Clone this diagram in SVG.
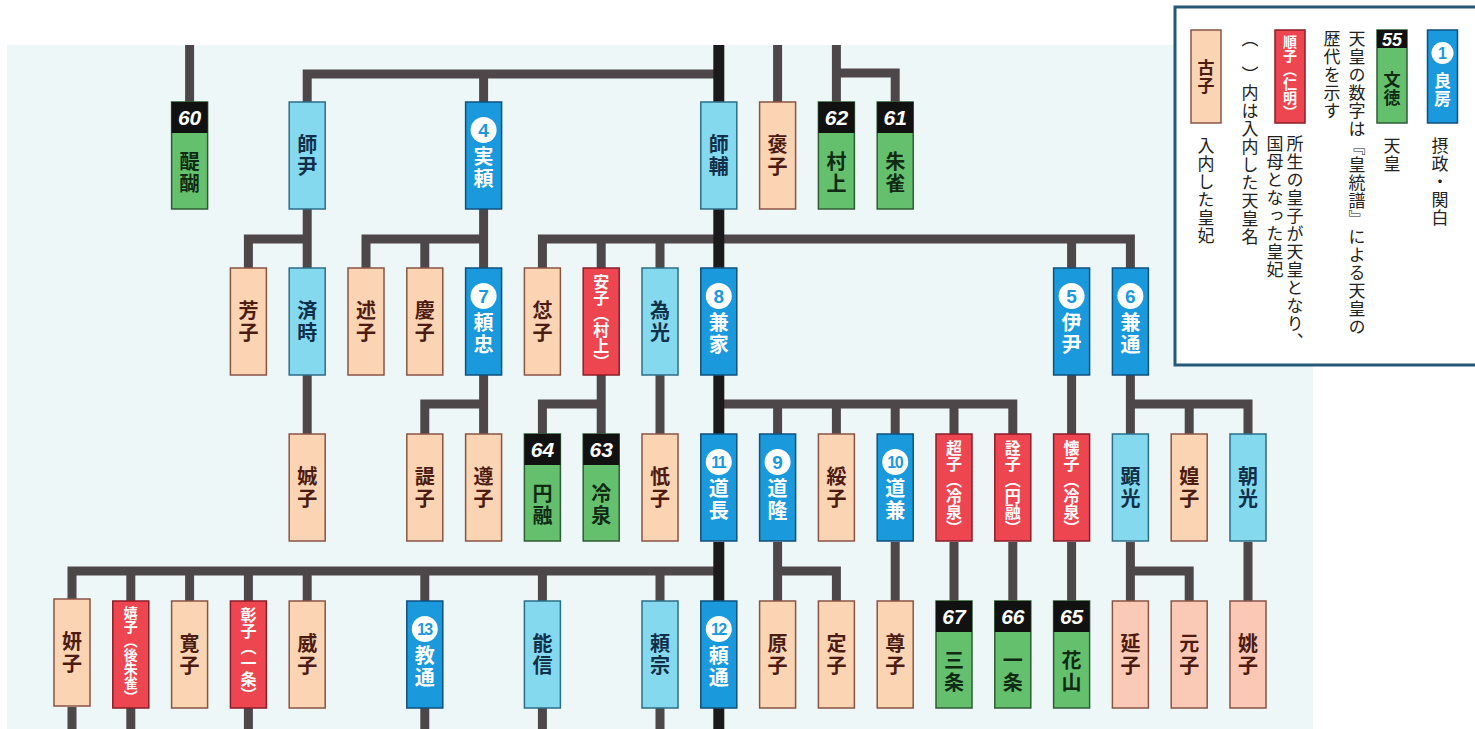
<svg xmlns="http://www.w3.org/2000/svg" width="1475" height="729" viewBox="0 0 1475 729">
<style>
.c{fill:none;stroke:#4e4749;stroke-width:9;stroke-linejoin:miter}
.m{fill:none;stroke:#1b1a1b;stroke-width:11}
.nb{fill:#1a99dc;stroke:#10507d;stroke-width:1.5}
.nl{fill:#84d9ef;stroke:#2d6d88;stroke-width:1.5}
.np{fill:#fbd4b4;stroke:#8a5444;stroke-width:1.5}
.nr{fill:#ee4651;stroke:#8a1e28;stroke-width:1.5}
.ng{fill:#64c06d;stroke:#2e5d33;stroke-width:1.5}
.hd{fill:#111}
.v{writing-mode:vertical-rl;text-anchor:middle;font-family:"Noto Sans CJK JP","Noto Sans CJK SC",sans-serif;font-weight:bold;font-size:20px;letter-spacing:2px}
.s{font-size:16px;letter-spacing:0}
.xs{font-size:14px;letter-spacing:0}
.tb{fill:#fff}.tl{fill:#10304a}.tp{fill:#4c1c12}.tg{fill:#102a14}
.num{font-family:"Liberation Sans",Arial,sans-serif;font-style:italic;font-weight:bold;font-size:21px;fill:#fff;text-anchor:middle}
.ci{fill:#fff}
.cn{font-family:"Liberation Sans",Arial,sans-serif;font-weight:bold;font-size:19px;fill:#1a99dc;text-anchor:middle}
.cn2{font-size:16px;letter-spacing:-1.5px}
.lg{writing-mode:vertical-rl;font-family:"Noto Sans CJK JP","Noto Sans CJK SC",sans-serif;font-size:17px;fill:#222;letter-spacing:1px}
</style>
<rect x="7" y="45" width="1306" height="684" fill="#eef7f8"/>

<g id="connectors">
<path class="c" d="M189.6,45V102"/>
<path class="c" d="M307.2,102V74H718.8M483.6,74V102"/>
<path class="c" d="M777.6,45V102"/>
<path class="c" d="M836.4,45V102M836.4,73H895.2V102"/>
<path class="c" d="M248.4,268V239H307.2M307.2,209V268"/>
<path class="c" d="M366,268V239H483.6M424.8,239V268M483.6,209V268"/>
<path class="c" d="M542.4,268V239H1130.4V268M601.2,239V268M660,239V268M1071.6,239V268"/>
<path class="c" d="M307.2,375V434"/>
<path class="c" d="M424.8,434V404H483.6M483.6,375V434"/>
<path class="c" d="M542.4,434V404H601.2M601.2,375V434"/>
<path class="c" d="M660,375V434"/>
<path class="c" d="M718.8,404H1012.8V434M777.6,404V434M836.4,404V434M895.2,404V434M954,404V434"/>
<path class="c" d="M1071.6,375V434"/>
<path class="c" d="M1130.4,375V434M1130.4,404H1248V434M1189.2,404V434"/>
<path class="c" d="M72,601V571H718.8M130.8,571V601M189.6,571V601M248.4,571V601M307.2,571V601M424.8,571V601M542.4,571V601M660,571V601"/>
<path class="c" d="M777.6,542V601M777.6,571H836.4V601"/>
<path class="c" d="M895.2,542V601M954,542V601M1012.8,542V601M1071.6,542V601"/>
<path class="c" d="M1130.4,542V601M1130.4,571H1189.2V601M1248,542V601"/>
<path class="c" d="M72,707V729M130.8,707V729M248.4,707V729M424.8,707V729M542.4,707V729M660,707V729"/>
<path class="m" d="M718.8,45V102M718.8,209V268M718.8,375V434M718.8,542V601M718.8,707V729"/>
</g>

<!-- Row 1 -->
<g id="n-daigo" transform="translate(189.6,102)"><rect class="ng" x="-18" y="0" width="36" height="107"/><rect class="hd" x="-18" y="0" width="36" height="31"/><text class="num" x="0" y="23">60</text><text class="v tg" x="0" y="71">醍醐</text></g>
<g id="n-morotada" transform="translate(307.2,102)"><rect class="nl" x="-18" y="0" width="36" height="107"/><text class="v tl" x="0" y="54">師尹</text></g>
<g id="n-saneyori" transform="translate(483.6,102)"><rect class="nb" x="-18" y="0" width="36" height="107"/><circle class="ci" cx="0" cy="28" r="13"/><text class="cn" x="0" y="35">4</text><text class="v tb" x="0" y="66">実頼</text></g>
<g id="n-morosuke" transform="translate(718.8,102)"><rect class="nl" x="-18" y="0" width="36" height="107"/><text class="v tl" x="0" y="54">師輔</text></g>
<g id="n-hoshi" transform="translate(777.6,102)"><rect class="np" x="-18" y="0" width="36" height="107"/><text class="v tp" x="0" y="54">褒子</text></g>
<g id="n-murakami" transform="translate(836.4,102)"><rect class="ng" x="-18" y="0" width="36" height="107"/><rect class="hd" x="-18" y="0" width="36" height="31"/><text class="num" x="0" y="23">62</text><text class="v tg" x="0" y="71">村上</text></g>
<g id="n-suzaku" transform="translate(895.2,102)"><rect class="ng" x="-18" y="0" width="36" height="107"/><rect class="hd" x="-18" y="0" width="36" height="31"/><text class="num" x="0" y="23">61</text><text class="v tg" x="0" y="71">朱雀</text></g>

<!-- Row 2 -->
<g id="n-hoshi2" transform="translate(248.4,268)"><rect class="np" x="-18" y="0" width="36" height="107"/><text class="v tp" x="0" y="54">芳子</text></g>
<g id="n-naritoki" transform="translate(307.2,268)"><rect class="nl" x="-18" y="0" width="36" height="107"/><text class="v tl" x="0" y="54">済時</text></g>
<g id="n-jutsushi" transform="translate(366,268)"><rect class="np" x="-18" y="0" width="36" height="107"/><text class="v tp" x="0" y="54">述子</text></g>
<g id="n-keishi" transform="translate(424.8,268)"><rect class="np" x="-18" y="0" width="36" height="107"/><text class="v tp" x="0" y="54">慶子</text></g>
<g id="n-yoritada" transform="translate(483.6,268)"><rect class="nb" x="-18" y="0" width="36" height="107"/><circle class="ci" cx="0" cy="28" r="13"/><text class="cn" x="0" y="35">7</text><text class="v tb" x="0" y="66">頼忠</text></g>
<g id="n-fushi" transform="translate(542.4,268)"><rect class="np" x="-18" y="0" width="36" height="107"/><text class="v tp" x="0" y="54">怤子</text></g>
<g id="n-anshi" transform="translate(601.2,268)"><rect class="nr" x="-18" y="0" width="36" height="107"/><text class="v s tb" x="0" y="54">安子（村上）</text></g>
<g id="n-tamemitsu" transform="translate(660,268)"><rect class="nl" x="-18" y="0" width="36" height="107"/><text class="v tl" x="0" y="54">為光</text></g>
<g id="n-kaneie" transform="translate(718.8,268)"><rect class="nb" x="-18" y="0" width="36" height="107"/><circle class="ci" cx="0" cy="28" r="13"/><text class="cn" x="0" y="35">8</text><text class="v tb" x="0" y="66">兼家</text></g>
<g id="n-koretada" transform="translate(1071.6,268)"><rect class="nb" x="-18" y="0" width="36" height="107"/><circle class="ci" cx="0" cy="28" r="13"/><text class="cn" x="0" y="35">5</text><text class="v tb" x="0" y="66">伊尹</text></g>
<g id="n-kanemichi" transform="translate(1130.4,268)"><rect class="nb" x="-18" y="0" width="36" height="107"/><circle class="ci" cx="0" cy="28" r="13"/><text class="cn" x="0" y="35">6</text><text class="v tb" x="0" y="66">兼通</text></g>

<!-- Row 3 -->
<g id="n-seishi" transform="translate(307.2,434)"><rect class="np" x="-18" y="0" width="36" height="107"/><text class="v tp" x="0" y="54">娍子</text></g>
<g id="n-shishi" transform="translate(424.8,434)"><rect class="np" x="-18" y="0" width="36" height="107"/><text class="v tp" x="0" y="54">諟子</text></g>
<g id="n-junshi" transform="translate(483.6,434)"><rect class="np" x="-18" y="0" width="36" height="107"/><text class="v tp" x="0" y="54">遵子</text></g>
<g id="n-enyu" transform="translate(542.4,434)"><rect class="ng" x="-18" y="0" width="36" height="107"/><rect class="hd" x="-18" y="0" width="36" height="31"/><text class="num" x="0" y="23">64</text><text class="v tg" x="0" y="71">円融</text></g>
<g id="n-reizei" transform="translate(601.2,434)"><rect class="ng" x="-18" y="0" width="36" height="107"/><rect class="hd" x="-18" y="0" width="36" height="31"/><text class="num" x="0" y="23">63</text><text class="v tg" x="0" y="71">冷泉</text></g>
<g id="n-shishi2" transform="translate(660,434)"><rect class="np" x="-18" y="0" width="36" height="107"/><text class="v tp" x="0" y="54">忯子</text></g>
<g id="n-michinaga" transform="translate(718.8,434)"><rect class="nb" x="-18" y="0" width="36" height="107"/><circle class="ci" cx="0" cy="28" r="13"/><text class="cn cn2" x="-0.5" y="34">11</text><text class="v tb" x="0" y="66">道長</text></g>
<g id="n-michitaka" transform="translate(777.6,434)"><rect class="nb" x="-18" y="0" width="36" height="107"/><circle class="ci" cx="0" cy="28" r="13"/><text class="cn" x="0" y="35">9</text><text class="v tb" x="0" y="66">道隆</text></g>
<g id="n-suishi" transform="translate(836.4,434)"><rect class="np" x="-18" y="0" width="36" height="107"/><text class="v tp" x="0" y="54">綏子</text></g>
<g id="n-michikane" transform="translate(895.2,434)"><rect class="nb" x="-18" y="0" width="36" height="107"/><circle class="ci" cx="0" cy="28" r="13"/><text class="cn cn2" x="-0.5" y="34">10</text><text class="v tb" x="0" y="66">道兼</text></g>
<g id="n-choshi" transform="translate(954,434)"><rect class="nr" x="-18" y="0" width="36" height="107"/><text class="v s tb" x="0" y="54">超子（冷泉）</text></g>
<g id="n-senshi" transform="translate(1012.8,434)"><rect class="nr" x="-18" y="0" width="36" height="107"/><text class="v s tb" x="0" y="54">詮子（円融）</text></g>
<g id="n-kaishi" transform="translate(1071.6,434)"><rect class="nr" x="-18" y="0" width="36" height="107"/><text class="v s tb" x="0" y="54">懐子（冷泉）</text></g>
<g id="n-akimitsu" transform="translate(1130.4,434)"><rect class="nl" x="-18" y="0" width="36" height="107"/><text class="v tl" x="0" y="54">顕光</text></g>
<g id="n-koshi" transform="translate(1189.2,434)"><rect class="np" x="-18" y="0" width="36" height="107"/><text class="v tp" x="0" y="54">媓子</text></g>
<g id="n-asateru" transform="translate(1248,434)"><rect class="nl" x="-18" y="0" width="36" height="107"/><text class="v tl" x="0" y="54">朝光</text></g>

<!-- Row 4 -->
<g id="n-kenshi" transform="translate(72,599)"><rect class="np" x="-18" y="0" width="36" height="107"/><text class="v tp" x="0" y="54">妍子</text></g>
<g id="n-kishi" transform="translate(130.8,601)"><rect class="nr" x="-18" y="0" width="36" height="107"/><text class="v xs tb" x="0" y="54">嬉子（後朱雀）</text></g>
<g id="n-kanshi" transform="translate(189.6,601)"><rect class="np" x="-18" y="0" width="36" height="107"/><text class="v tp" x="0" y="54">寛子</text></g>
<g id="n-shoshi" transform="translate(248.4,601)"><rect class="nr" x="-18" y="0" width="36" height="107"/><text class="v s tb" x="0" y="54">彰子（一条）</text></g>
<g id="n-ishi" transform="translate(307.2,601)"><rect class="np" x="-18" y="0" width="36" height="107"/><text class="v tp" x="0" y="54">威子</text></g>
<g id="n-norimichi" transform="translate(424.8,601)"><rect class="nb" x="-18" y="0" width="36" height="107"/><circle class="ci" cx="0" cy="28" r="13"/><text class="cn cn2" x="-0.5" y="34">13</text><text class="v tb" x="0" y="66">教通</text></g>
<g id="n-yoshinobu" transform="translate(542.4,601)"><rect class="nl" x="-18" y="0" width="36" height="107"/><text class="v tl" x="0" y="54">能信</text></g>
<g id="n-yorimune" transform="translate(660,601)"><rect class="nl" x="-18" y="0" width="36" height="107"/><text class="v tl" x="0" y="54">頼宗</text></g>
<g id="n-yorimichi" transform="translate(718.8,601)"><rect class="nb" x="-18" y="0" width="36" height="107"/><circle class="ci" cx="0" cy="28" r="13"/><text class="cn cn2" x="-0.5" y="34">12</text><text class="v tb" x="0" y="66">頼通</text></g>
<g id="n-genshi" transform="translate(777.6,601)"><rect class="np" x="-18" y="0" width="36" height="107"/><text class="v tp" x="0" y="54">原子</text></g>
<g id="n-teishi" transform="translate(836.4,601)"><rect class="np" x="-18" y="0" width="36" height="107"/><text class="v tp" x="0" y="54">定子</text></g>
<g id="n-sonshi" transform="translate(895.2,601)"><rect class="np" x="-18" y="0" width="36" height="107"/><text class="v tp" x="0" y="54">尊子</text></g>
<g id="n-sanjo" transform="translate(954,601)"><rect class="ng" x="-18" y="0" width="36" height="107"/><rect class="hd" x="-18" y="0" width="36" height="31"/><text class="num" x="0" y="23">67</text><text class="v tg" x="0" y="71">三条</text></g>
<g id="n-ichijo" transform="translate(1012.8,601)"><rect class="ng" x="-18" y="0" width="36" height="107"/><rect class="hd" x="-18" y="0" width="36" height="31"/><text class="num" x="0" y="23">66</text><text class="v tg" x="0" y="71">一条</text></g>
<g id="n-kazan" transform="translate(1071.6,601)"><rect class="ng" x="-18" y="0" width="36" height="107"/><rect class="hd" x="-18" y="0" width="36" height="31"/><text class="num" x="0" y="23">65</text><text class="v tg" x="0" y="71">花山</text></g>
<g id="n-enshi" transform="translate(1130.4,601)"><rect class="np" x="-18" y="0" width="36" height="107" style="fill:#fbcab6"/><text class="v tp" x="0" y="54">延子</text></g>
<g id="n-genshi2" transform="translate(1189.2,601)"><rect class="np" x="-18" y="0" width="36" height="107" style="fill:#fbcab6"/><text class="v tp" x="0" y="54">元子</text></g>
<g id="n-choshi2" transform="translate(1248,601)"><rect class="np" x="-18" y="0" width="36" height="107" style="fill:#fbc8b6"/><text class="v tp" x="0" y="54">姚子</text></g>

<!-- Legend -->
<g id="legend">
<rect x="1175" y="7" width="310" height="358" fill="#fff" stroke="#24597a" stroke-width="3"/>
<g id="lg-regent" transform="translate(1442.5,30)"><rect class="nb" x="-15" y="0" width="30" height="93"/><circle class="ci" cx="0" cy="23" r="11"/><text class="cn" x="0" y="29" style="font-size:16px">1</text><text class="v tb" x="0" y="60" style="font-size:17px;letter-spacing:1px">良房</text></g>
<text class="lg" x="1440" y="137">摂政・関白</text>
<g id="lg-emperor" transform="translate(1392,30)"><rect class="ng" x="-15" y="0" width="30" height="93"/><rect class="hd" x="-15" y="0" width="30" height="18"/><text class="num" x="0" y="16" style="font-size:18px">55</text><text class="v tg" x="0" y="59" style="font-size:17px;letter-spacing:1px">文徳</text></g>
<text class="lg" x="1392" y="137">天皇</text>
<text class="lg" x="1357" y="30">天皇の数字は『皇統譜』による天皇の</text>
<text class="lg" x="1332" y="30">歴代を示す</text>
<g id="lg-mother" transform="translate(1290,30)"><rect class="nr" x="-15" y="0" width="30" height="93"/><text class="v tb" x="0" y="47" style="font-size:14px;letter-spacing:0">順子（仁明）</text></g>
<text class="lg" x="1295" y="135">所生の皇子が天皇となり、</text>
<text class="lg" x="1275" y="135">国母となった皇妃</text>
<text class="lg" x="1250" y="30">（　）内は入内した天皇名</text>
<g id="lg-consort" transform="translate(1206,30)"><rect class="np" x="-15" y="0" width="30" height="93"/><text class="v tp" x="0" y="47" style="font-size:17px;letter-spacing:1px">古子</text></g>
<text class="lg" x="1206" y="137">入内した皇妃</text>
</g>
</svg>
